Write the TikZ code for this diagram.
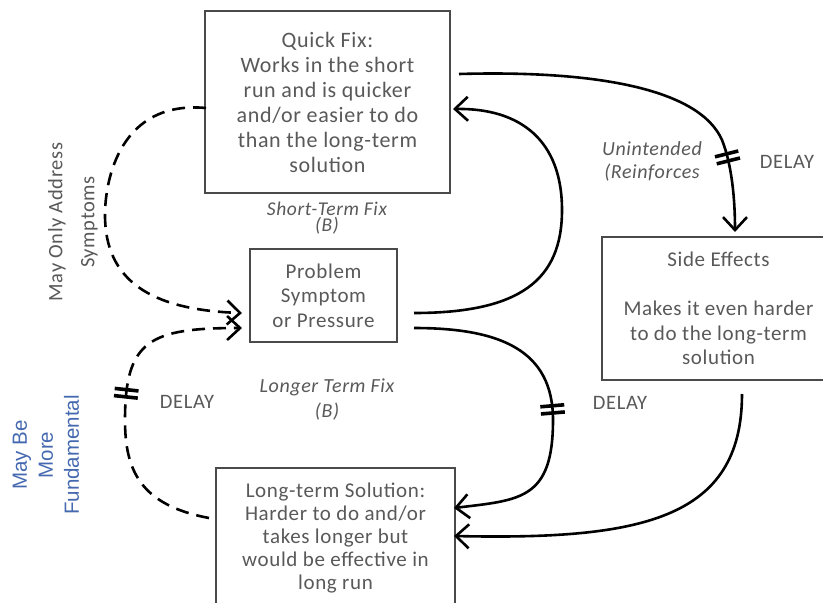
\documentclass[tikz,border=0pt]{standalone}
\usepackage{fontspec}
\setmainfont{Carlito}[LetterSpace=3]
\newfontfamily\notefont{Liberation Sans}
\usetikzlibrary{arrows.meta,decorations.markings,calc}
\definecolor{txtgray}{HTML}{595959}
\definecolor{boxgray}{HTML}{4A4A4A}
\definecolor{noteblue}{HTML}{4569B0}
\begin{document}
\begin{tikzpicture}[x=1pt,y=-1pt,
  box/.style={draw=boxgray,line width=2pt,fill=white,inner sep=0pt},
  boxtext/.style={text=txtgray,align=center,inner sep=0pt,
    font=\fontsize{21}{24.5}\selectfont},
  lbl/.style={text=txtgray,align=center,inner sep=0pt,
    font=\fontsize{20.5}{24}\selectfont},
  itlbl/.style={text=txtgray,align=center,inner sep=0pt,
    font=\fontsize{20}{25}\selectfont\itshape},
  flow/.style={draw=black,line width=2.6pt,
    -{Straight Barb[length=13pt,width=24pt]}},
  dashflow/.style={flow,dash pattern=on 13pt off 8pt},
  delaymark/.style={postaction={decorate},
    decoration={markings,mark=at position #1 with {
      \draw[-,solid,line width=3.6pt] (-3.6,-12)--(-3.6,12) (3.6,-12)--(3.6,12);}}}
]
\useasboundingbox (0,0) rectangle (823,603);
\clip (0,0) rectangle (823,603);
\fill[white] (0,0) rectangle (823,603);

% boxes
\node[box,boxtext,font=\fontsize{22}{25}\selectfont,minimum width=245pt,minimum height=182pt] (qf) at (327.5,102)
  {Quick Fix:\\Works in the short\\run and is quicker\\and/or easier to do\\than the long-term\\solution};
\node[box,boxtext,minimum width=147pt,minimum height=93pt] (ps) at (323.5,295.5)
  {Problem\\Symptom\\or Pressure};
\node[box,boxtext,minimum width=233pt,minimum height=143pt] (se) at (718.5,308.5)
  {Side Effects\\ \strut\\Makes it even harder\\to do the long-term\\solution};
\node[box,minimum width=239pt,minimum height=182pt] (lt) at (335.5,559) {};
\node[boxtext,font=\fontsize{21}{23}\selectfont] (ltt) at (335.5,538)
  {Long-term Solution:\\Harder to do and/or\\takes longer but\\would be effective in\\long run};

% solid links
\draw[flow,delaymark=0.8] ($(qf.east)+(8,-28)$) .. controls (600,70) and (700,90) .. (722,140)
  .. controls (732,165) and (735,200) .. ($(se.north)+(16.5,-4)$);
\draw[flow] ($(ps.east)+(16,17.5)$) .. controls (520,313) and (562,280) .. (562,210)
  .. controls (562,140) and (520,108) .. ($(qf.east)+(2,7)$);
\draw[flow,delaymark=0.52] ($(ps.east)+(16,32.5)$) .. controls (500,328) and (553,350) .. (553,420)
  .. controls (553,500) and (520,500) .. ($(lt.east)+(-2,-51)$);
\draw[flow] ($(se.south)+(23.5,13)$) .. controls (742,520) and (640,540) .. ($(lt.east)+(-2,-23)$);

% dashed links
\draw[dashflow] ($(qf.west)+(2,6)$) .. controls (120,100) and (105,180) .. (105,215)
  .. controls (105,280) and (150,310) .. ($(ps.west)+(-7,17.5)$);
\draw[dashflow,delaymark=0.53] ($(lt.west)+(-6,-41)$) .. controls (140,505) and (125,470) .. (125,420)
  .. controls (125,340) and (150,328) .. ($(ps.west)+(-7,32.5)$);

% labels
\node[itlbl,font=\fontsize{19.5}{14}\selectfont\itshape] (stf) at (327,218) {Short-Term Fix\\(B)};
\node[itlbl] (ltf) at (327,399) {Longer Term Fix\\(B)};
\node[itlbl,font=\fontsize{20}{23}\selectfont\itshape] (uni) at (652,161) {Unintended\\(Reinforces};
\node[lbl] (d1) at (787,162) {DELAY};
\node[lbl] (d2) at (620,403) {DELAY};
\node[lbl] (d3) at (187,402) {DELAY};
\node[lbl,rotate=90] (mo) at (73,222) {May Only Address\\[8pt]Symptoms};
\node[rotate=90,text=noteblue,align=center,inner sep=0pt,
  font=\notefont\fontsize{20.5}{26}\selectfont] (mf) at (46,455) {May Be\\More\\Fundamental};
\end{tikzpicture}
\end{document}
